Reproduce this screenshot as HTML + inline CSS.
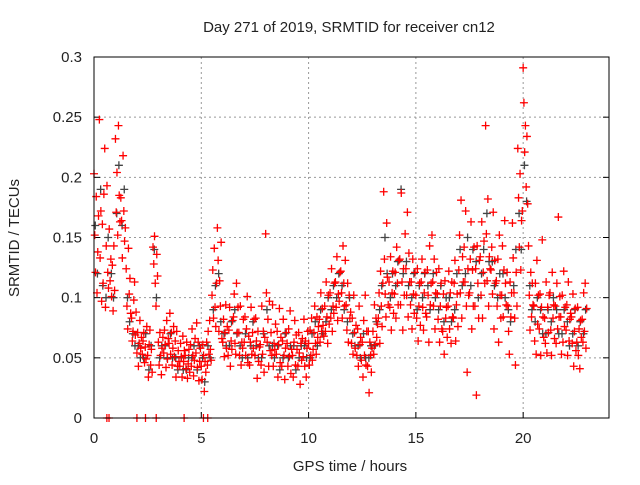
<!DOCTYPE html>
<html><head><meta charset="utf-8"><style>
body{margin:0;background:#fff}
svg text{font-family:"Liberation Sans",sans-serif;fill:#222}
</style></head><body>
<svg id="chart" width="640" height="480">
<text x="349" y="32" font-size="15" text-anchor="middle">Day 271 of 2019, SRMTID for receiver cn12</text>
<text x="350" y="471" font-size="15" text-anchor="middle">GPS time / hours</text>
<text transform="translate(19,238) rotate(-90)" font-size="15" text-anchor="middle">SRMTID / TECUs</text>
<g id="grid"></g><g id="marks"></g>
<rect x="94" y="57" width="515" height="361" fill="none" stroke="#000"/>
</svg>
<script>
const xTicks=[0,5,10,15,20];
const yTicks=[0,0.05,0.1,0.15,0.2,0.25,0.3];
const yTickLabels=["0","0.05","0.1","0.15","0.2","0.25","0.3"];
const binHours=[0,0.25,0.5,0.75,1,1.25,1.5,1.75,2,2.25,2.5,2.75,3,3.25,3.5,3.75,4,4.25,4.5,4.75,5,5.25,5.5,5.75,6,6.25,6.5,6.75,7,7.25,7.5,7.75,8,8.25,8.5,8.75,9,9.25,9.5,9.75,10,10.25,10.5,10.75,11,11.25,11.5,11.75,12,12.25,12.5,12.75,13,13.25,13.5,13.75,14,14.25,14.5,14.75,15,15.25,15.5,15.75,16,16.25,16.5,16.75,17,17.25,17.5,17.75,18,18.25,18.5,18.75,19,19.25,19.5,19.75,20,20.25,20.5,20.75,21,21.25,21.5,21.75,22,22.25,22.5,22.75];
const binValues=[
[.203,.152,.121,.184,.104,.138,.168],[.248,.133,.172,.097,.161,.112,.186],[.224,.092,.143,.193,.121,.108,.157],[.114,.132,.101,.127,.089,.143,.106],[.232,.171,.204,.152,.243,.185,.163],[.183,.164,.133,.218,.172,.147,.158],[.124,.093,.074,.141,.103,.116,.087],[.083,.064,.072,.098,.113,.069,.088],[.054,.071,.043,.062,.081,.058,.067],[.053,.064,.071,.046,.059,.049,.076],[.052,.034,.061,.073,.044,.057,.038],[.142,.128,.151,.112,.093,.136,.118],[.063,.044,.071,.052,.036,.058,.067],[.054,.073,.061,.042,.081,.049,.066],[.062,.087,.053,.071,.044,.058,.076],[.051,.064,.034,.072,.043,.056,.047],[.043,.062,.051,.034,.068,.047,.056],[.052,.041,.063,.033,.045,.057,.038],[.061,.043,.074,.052,.035,.048,.066],[.054,.079,.042,.063,.031,.047,.058],[.043,.032,.061,.052,.022,.047,.038],[.063,.044,.072,.053,.081,.057,.048],[.102,.123,.083,.141,.092,.076,.112],[.158,.131,.072,.114,.093,.146,.066],[.063,.082,.051,.071,.094,.058,.076],[.052,.073,.092,.043,.064,.057,.081],[.084,.103,.062,.053,.112,.071,.092],[.071,.052,.093,.044,.063,.058,.082],[.063,.084,.052,.074,.101,.046,.068],[.044,.063,.092,.053,.071,.058,.082],[.052,.083,.064,.033,.072,.047,.059],[.061,.044,.093,.053,.072,.038,.067],[.153,.104,.063,.082,.043,.097,.056],[.071,.052,.094,.043,.062,.057,.078],[.053,.072,.034,.061,.091,.046,.067],[.043,.064,.082,.052,.032,.058,.071],[.062,.043,.074,.051,.089,.037,.057],[.052,.034,.063,.081,.044,.069,.057],[.043,.071,.054,.028,.062,.048,.066],[.051,.082,.043,.064,.034,.058,.072],[.062,.044,.073,.052,.083,.048,.057],[.071,.093,.062,.053,.084,.067,.076],[.082,.063,.104,.072,.091,.077,.068],[.093,.072,.113,.084,.062,.102,.078],[.104,.083,.124,.072,.093,.087,.112],[.113,.092,.134,.081,.103,.097,.121],[.122,.104,.083,.143,.112,.093,.131],[.094,.073,.112,.063,.102,.083,.088],[.062,.083,.053,.102,.071,.058,.077],[.052,.074,.043,.093,.061,.067,.048],[.063,.034,.081,.052,.102,.044,.072],[.043,.072,.021,.063,.052,.038,.058],[.072,.053,.094,.061,.083,.067,.078],[.083,.104,.062,.122,.093,.076,.112],[.188,.132,.103,.084,.162,.117,.094],[.113,.092,.134,.073,.104,.122,.087],[.103,.121,.083,.142,.112,.094,.131],[.132,.094,.187,.113,.073,.124,.102],[.153,.124,.102,.171,.084,.137,.113],[.094,.113,.074,.132,.103,.087,.121],[.102,.083,.124,.064,.093,.112,.077],[.113,.132,.092,.073,.104,.121,.087],[.084,.123,.102,.063,.143,.094,.112],[.152,.113,.093,.132,.074,.104,.121],[.103,.082,.124,.063,.093,.112,.074],[.072,.103,.053,.114,.083,.092,.067],[.093,.122,.074,.104,.062,.113,.084],[.083,.112,.131,.064,.094,.103,.076],[.123,.152,.104,.181,.083,.134,.113],[.142,.113,.172,.093,.038,.124,.102],[.104,.132,.163,.074,.123,.093,.142],[.093,.124,.019,.143,.112,.083,.131],[.134,.102,.163,.083,.121,.147,.112],[.243,.153,.114,.182,.093,.134,.124],[.123,.142,.103,.171,.074,.131,.112],[.114,.093,.132,.063,.152,.102,.083],[.102,.143,.084,.123,.164,.112,.094],[.121,.093,.072,.053,.113,.084,.104],[.162,.133,.104,.083,.044,.121,.093],[.224,.183,.142,.203,.123,.164,.172],[.291,.262,.221,.243,.192,.234,.178],[.143,.102,.073,.121,.084,.112,.094],[.093,.064,.112,.053,.131,.078,.102],[.074,.103,.052,.092,.148,.084,.067],[.083,.062,.113,.054,.092,.071,.102],[.104,.073,.052,.121,.083,.094,.066],[.093,.062,.112,.074,.167,.084,.101],[.084,.053,.102,.063,.122,.076,.092],[.073,.094,.052,.113,.064,.082,.087],[.084,.062,.103,.043,.072,.091,.056],[.063,.092,.052,.074,.041,.081,.067],[.082,.063,.104,.072,.112,.058,.091]];
const greyValues=[[.16,.12],[.19,.11],[.10,.15],[.12,.10],[.17,.21],[.16,.19],[.10,.08],[.07,.06],[.06,.05],[.05,.07],[.04,.06],[.14,.10],[.05,.06],[.06,.05],[.07,.05],[.05,.04],[.05,.04],[.04,.05],[.05,.06],[.04,.06],[.05,.03],[.06,.05],[.09,.11],[.12,.08],[.07,.06],[.06,.08],[.09,.07],[.06,.05],[.07,.05],[.06,.08],[.06,.05],[.05,.07],[.09,.06],[.06,.05],[.06,.04],[.05,.07],[.05,.06],[.06,.04],[.05,.06],[.06,.05],[.05,.07],[.08,.06],[.09,.07],[.08,.10],[.09,.11],[.10,.12],[.11,.09],[.08,.10],[.07,.06],[.06,.05],[.07,.05],[.05,.06],[.06,.08],[.09,.11],[.15,.12],[.10,.12],[.11,.13],[.19,.12],[.13,.11],[.10,.12],[.09,.11],[.10,.12],[.11,.09],[.12,.10],[.09,.11],[.08,.10],[.10,.08],[.09,.12],[.14,.11],[.12,.15],[.11,.14],[.13,.10],[.12,.14],[.17,.13],[.13,.11],[.10,.12],[.12,.10],[.09,.08],[.11,.14],[.17,.14],[.21,.18],[.11,.09],[.08,.10],[.09,.07],[.07,.09],[.08,.10],[.09,.07],[.07,.09],[.08,.06],[.07,.09],[.06,.08],[.07,.09]];
const zeroHours=[0.6,0.7,2.0,2.4,2.9,4.2,5.1,5.3];
const X=h=>94+h*(515/24);
const Y=v=>418-v*(361/0.3);
const NS="http://www.w3.org/2000/svg";
const grid=document.getElementById('grid'), marks=document.getElementById('marks');
function mk(tag,attrs,parent){const e=document.createElementNS(NS,tag);for(const k in attrs)e.setAttribute(k,attrs[k]);parent.appendChild(e);return e;}
xTicks.forEach(t=>{
  const l=mk('line',{x1:X(t),x2:X(t),y1:57,y2:418,stroke:'#999','stroke-dasharray':'2,3'},grid);
  
  
  mk('line',{x1:X(t),x2:X(t),y1:418,y2:412,stroke:'#000'},grid);
  const tx=mk('text',{x:X(t),y:443,'font-size':15,'text-anchor':'middle'},grid);tx.textContent=t;
  
  
});
yTicks.forEach((t,i)=>{
  const l=mk('line',{x1:94,x2:609,y1:Y(t),y2:Y(t),stroke:'#999','stroke-dasharray':'2,3'},grid);
  
  
  mk('line',{x1:94,x2:100,y1:Y(t),y2:Y(t),stroke:'#000'},grid);
  mk('line',{x1:603,x2:609,y1:Y(t),y2:Y(t),stroke:'#000'},grid);
  const tx=mk('text',{x:82,y:Y(t)+5,'font-size':15,'text-anchor':'end'},grid);tx.textContent=yTickLabels[i];
  
  
});
function plus(h,v,color,name){
  const x=X(h),y=Y(v);
  const p=mk('path',{d:`M${x-4},${y}H${x+4}M${x},${y-4}V${y+4}`,stroke:color,'stroke-width':1.3,fill:'none'},marks);
  
  
}
binHours.forEach((h,i)=>greyValues[i].forEach((v,j)=>plus(h+0.06+j*0.1,v,'#444','grey-point')));
binHours.forEach((h,i)=>binValues[i].forEach((v,j)=>plus(h+j*0.035,v,'#f00','srmtid-point')));
zeroHours.forEach(h=>plus(h,0,'#f00','zero-point'));
</script>
</body></html>
